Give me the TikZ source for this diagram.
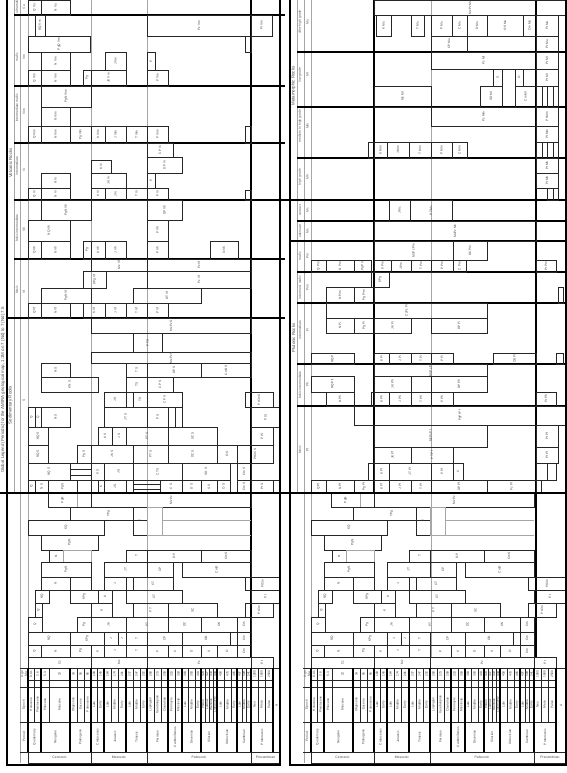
\documentclass[tikz,border=0pt]{standalone}
\usepackage{fontspec}
\setmainfont{Liberation Sans}
\tikzset{
  bxl/.style={draw=black!85, line width=0.35pt},
  lbl/.style={rotate=90, font=\fontsize{1.6}{1.9}\selectfont, inner sep=0pt, text=black!75},
  hdr/.style={rotate=90, font=\fontsize{1.7}{2}\selectfont, inner sep=0pt, text=black!65},
  grp/.style={rotate=90, font=\fontsize{2.2}{2.6}\selectfont, inner sep=0pt, text=black!70},
  hlbl/.style={font=\fontsize{1.7}{2}\selectfont, inner sep=0pt, text=black!70},
  sect/.style={draw=black, line width=0.55pt},
  frm/.style={draw=black, line width=0.9pt},
  era/.style={draw=black!35, line width=0.35pt},
  thk/.style={draw=black, line width=0.7pt},
}
\newcommand{\bx}[5]{\draw[bxl] (#1,#2) rectangle (#3,#4); \node[lbl] at ({(#1+#3)/2},{(#2+#4)/2}) {#5};}
\newcommand{\tscale}[1]{%
 \bx{48}{493}{77}{507}{PgN}
 \draw[era] (77,493) rectangle (91,507);
 \bx{91}{493}{251}{507}{MzPz}
 \bx{70}{507}{147}{520}{TPg}
 \bx{28}{520}{104}{535}{KQ}
 \bx{133}{507}{147}{535}{T}
 \draw[era] (147,507) rectangle (162,535);
 \draw[era] (162,520)--(251,520) (162,535)--(251,535);
 \bx{41}{535}{98}{550}{PgN}
 \bx{49}{550}{63}{562}{N}
 \draw[era] (63,550) rectangle (91,562);
 \bx{126}{550}{147}{562}{T}
 \bx{147}{550}{201}{562}{DP}
 \bx{201}{550}{251}{562}{CmS}
 \bx{41}{562}{91}{577}{PgN}
 \bx{104}{562}{147}{577}{JT}
 \bx{147}{562}{173}{577}{CP}
 \bx{182}{562}{251}{577}{CmD}
 \bx{41}{577}{70}{590}{N}
 \bx{70}{577}{91}{590}{}
 \bx{104}{577}{126}{590}{J}
 \bx{133}{577}{173}{590}{CT}
 \bx{245}{577}{#1}{590}{PtCm}
 \bx{35}{590}{49}{603}{NQ}
 \bx{70}{590}{98}{603}{KPg}
 \bx{98}{590}{112}{603}{K}
 \bx{126}{590}{182}{603}{CT}
 \bx{251}{590}{#1}{603}{Pt}
 \bx{35}{603}{42}{617}{Q}
 \bx{91}{603}{112}{617}{K}
 \bx{133}{603}{168}{617}{PT}
 \bx{168}{603}{217}{617}{SC}
 \bx{245}{603}{273}{617}{PtCm}
 \bx{28}{617}{42}{632}{Q}
 \bx{77}{617}{91}{632}{Pg}
 \bx{91}{617}{126}{632}{JK}
 \bx{126}{617}{168}{632}{PT}
 \bx{168}{617}{201}{632}{DC}
 \bx{201}{617}{237}{632}{OS}
 \bx{237}{617}{251}{632}{Cm}
 \bx{28}{632}{70}{645}{NQ} \bx{70}{632}{104}{645}{KPg} \bx{104}{632}{118}{645}{J}
 \bx{118}{632}{126}{645}{J} \bx{126}{632}{147}{645}{T} \bx{147}{632}{182}{645}{CP}
 \bx{182}{632}{230}{645}{OD} \bx{230}{632}{237}{645}{} \bx{237}{632}{251}{645}{Cm}
 \foreach \xa/\xb/\nm in {28/41/Q,41/70/N,70/91/Pg,91/104/K,104/126/J,126/147/T,147/168/P,168/182/C,182/201/D,201/217/S,217/237/O,237/251/Cm}{\bx{\xa}{645}{\xb}{657}{\nm}}
 \foreach \xa/\xb/\nm in {28/91/Cz,91/147/Mz,147/251/Pz,251/273/Pt}{\bx{\xa}{657}{\xb}{668}{\nm}}
 \foreach \xa/\xb/\nm/\ag in {28/34/Holocene/0.01,34/41/Pleistocene/2.6,41/49/Pliocene/5.3,49/70/Miocene/23,70/77/Oligocene/34,77/84/Eocene/56,84/91/Paleocene/66,
   91/97/Late/100,97/104/Early/145,104/111/Late/164,111/118/Middle/174,118/126/Early/201,126/133/Late/237,133/140/Middle/247,140/147/Early/252,
   147/154/Lopingian/260,154/161/Guadalupian/273,161/168/Cisuralian/299,168/175/Pennsylv./323,175/182/Mississip./359,
   182/188/Late/383,188/195/Middle/393,195/201/Early/419,201/205/Pridoli/423,205/209/Ludlow/427,209/213/Wenlock/433,213/217/Llandovery/444,
   217/224/Late/458,224/231/Middle/470,231/237/Early/485,237/242/Late/497,242/246/Middle/509,246/251/Early/541,
   251/258/Neo/1000,258/265/Meso/1600,265/273/Paleo/2500}{%
   \draw[bxl] (\xa,668) rectangle (\xb,722); \draw[bxl] (\xa,680)--(\xb,680) (\xa,687)--(\xb,687);
   \node[lbl] at ({(\xa+\xb)/2},674) {\ag}; \node[lbl] at ({(\xa+\xb)/2},704.5) {\nm};}
 \draw[bxl] (273,668) rectangle (#1,752); \node[lbl] at ({(273+#1)/2},705) {A};
 \foreach \xa/\xb/\nm in {28/41/Quaternary,41/70/Neogene,70/91/Paleogene,91/104/Cretaceous,104/126/Jurassic,126/147/Triassic,147/168/Permian,168/182/Carboniferous,182/201/Devonian,201/217/Silurian,217/237/Ordovician,237/251/Cambrian,251/273/Proterozoic}{\bx{\xa}{722}{\xb}{752}{\nm}}
 \foreach \x in {28,41,70,91,104,126,147,168,182,201,217,237,251,273} \draw[thk] (\x,668)--(\x,752);
 \draw[bxl] (28,752) rectangle (91,763) (91,752) rectangle (147,763) (147,752) rectangle (251,763) (251,752) rectangle (#1,763);
 \node[hlbl] at (59.5,757.5) {Cenozoic}; \node[hlbl] at (119,757.5) {Mesozoic};
 \node[hlbl] at (199,757.5) {Paleozoic}; \node[hlbl] at ({(251+#1)/2},757.5) {Precambrian};
 \draw[bxl] (20,668)--(28,668) (20,687)--(28,687) (20,722)--(28,722) (20,752)--(28,752);
 \node[hdr, align=center] at (24,674) {Age\\Ma};
 \node[hdr] at (24,704.5) {Epoch};
 \node[hdr] at (24,737) {Period};
}
\begin{document}
\begin{tikzpicture}[x=0.5pt,y=-0.5pt]
\fill[white] (0,0) rectangle (567,773);
\useasboundingbox (0,0) rectangle (567,773);

%================ LEFT PANEL =================
\begin{scope}
 \draw[era] (91,0)--(91,493); \draw[era] (147,0)--(147,657);
 \draw[sect] (251,0)--(251,657);
 \draw[era] (14,0)--(14,493); \draw[era] (20,0)--(20,763); \draw[era] (28,0)--(28,763);
 \foreach \y in {15,86,143,200,259} \draw[sect] (14,\y)--(285,\y);
 \draw[sect] (7,318)--(285,318);
 % headers
 \node[grp] at (3,390) {Global Legend (Periodic) for the AMIRA geological map, 1:1M on 7 (Nd) to 7 (Nd) 7.5};
 \node[grp] at (10.5,163) {Volcanic Rocks};
 \node[grp] at (10.5,405) {Sedimentary Rocks};
 \node[hdr] at (17,6) {ultramafic}; \node[hdr] at (24,7) {Vu};
 \node[hdr] at (17,57) {mafic}; \node[hdr] at (24,57) {Vm};
 \node[hdr] at (17,108) {intermediate mafic}; \node[hdr] at (24,112) {Vim};
 \node[hdr] at (17,166) {intermediate}; \node[hdr] at (24,170) {Vi};
 \node[hdr] at (17,228) {felsic intermediate}; \node[hdr] at (24,230) {Vfi};
 \node[hdr] at (17,290) {felsic}; \node[hdr] at (24,292) {Vf};
 \node[hdr] at (24,400) {S};
 % S1
 \bx{28}{0}{41}{15}{Q Vu}
 \bx{41}{0}{70}{15}{N Vu}
 % S2
 \bx{35}{15}{45}{36}{NQ Vm}
 \bx{147}{15}{251}{36}{Pz Vm}
 \bx{251}{15}{272}{36}{Pt Vm}
 \bx{28}{36}{90}{52}{PgQ Vm}
 \bx{245}{36}{251}{52}{}
 \bx{41}{52}{70}{70}{N Vm}
 \bx{105}{52}{126}{70}{J Vm}
 \bx{147}{52}{155}{70}{P}
 \bx{28}{70}{41}{86}{Q Vm}
 \bx{41}{70}{70}{86}{N Vm}
 \bx{83}{70}{91}{86}{Pg}
 \bx{91}{70}{126}{86}{JK Vm}
 \bx{147}{70}{168}{86}{P Vm}
 % S3
 \bx{41}{86}{91}{107}{PgN Vim}
 \bx{41}{107}{70}{126}{N Vim}
 \bx{28}{126}{41}{143}{Q Vim}
 \bx{41}{126}{70}{143}{N Vim}
 \bx{70}{126}{91}{143}{Pg Vim}
 \bx{91}{126}{105}{143}{K Vim}
 \bx{105}{126}{126}{143}{J Vim}
 \bx{126}{126}{147}{143}{T Vim}
 \bx{147}{126}{168}{143}{P Vim}
 \bx{245}{126}{251}{143}{}
 % S4
 \bx{147}{143}{173}{157}{CP Vi}
 \bx{147}{157}{182}{173}{DP Vi}
 \bx{91}{160}{111}{173}{K Vi}
 \bx{41}{173}{70}{188}{N Vi}
 \bx{91}{173}{126}{188}{JK Vi}
 \bx{147}{173}{155}{188}{P}
 \bx{28}{188}{41}{200}{Q Vi}
 \bx{41}{188}{70}{200}{N Vi}
 \bx{91}{188}{105}{200}{K Vi}
 \bx{105}{188}{126}{200}{J Vi}
 \bx{126}{188}{147}{200}{T Vi}
 \bx{147}{188}{168}{200}{P Vi}
 \bx{245}{190}{251}{200}{}
 % S5
 \bx{41}{200}{91}{220}{PgN Vfi}
 \bx{147}{200}{182}{220}{DP Vfi}
 \bx{28}{220}{70}{241}{NQ Vfi}
 \bx{147}{220}{168}{241}{P Vfi}
 \bx{210}{241}{238}{259}{O Vfi}
 \bx{28}{241}{41}{259}{Q Vfi}
 \bx{41}{241}{70}{259}{N Vfi}
 \bx{83}{241}{91}{259}{Pg}
 \bx{91}{241}{105}{259}{K Vfi}
 \bx{105}{241}{126}{259}{J Vfi}
 \bx{147}{241}{168}{259}{P Vfi}
 % S6
 \bx{91}{259}{147}{271}{Mz Vf}
 \bx{147}{259}{251}{271}{Pz Vf}
 \bx{83}{271}{106}{288}{KPg Vf}
 \bx{147}{271}{251}{288}{Pz Vf}
 \bx{41}{288}{91}{303}{PgN Vf}
 \bx{133}{288}{201}{303}{DT Vf}
 \bx{28}{303}{41}{318}{Q Vf}
 \bx{41}{303}{70}{318}{N Vf}
 \bx{83}{303}{105}{318}{K Vf}
 \bx{105}{303}{126}{318}{J Vf}
 \bx{126}{303}{147}{318}{T Vf}
 \bx{147}{303}{168}{318}{P Vf}
 % Sedimentary
 \bx{91}{318}{251}{333}{MzPz S}
 \bx{133}{333}{162}{352}{PT S}
 \bx{91}{352}{251}{363}{MzPz S}
 \bx{41}{363}{70}{377}{N S}
 \bx{126}{363}{147}{377}{T S}
 \bx{147}{363}{201}{377}{DP S}
 \bx{201}{363}{251}{377}{CmS S}
 \bx{41}{377}{98}{392}{KN S}
 \bx{126}{377}{147}{392}{T S}
 \bx{147}{377}{173}{392}{CP S}
 \bx{104}{392}{126}{407}{J S}
 \bx{133}{392}{147}{407}{T S}
 \bx{147}{392}{182}{407}{CP S}
 \bx{245}{392}{273}{407}{PtCm S}
 \bx{28}{407}{35}{427}{Q}
 \bx{35}{407}{41}{427}{Q}
 \bx{41}{407}{70}{427}{N S}
 \bx{104}{407}{147}{427}{JT S}
 \bx{147}{407}{168}{427}{P S}
 \bx{168}{407}{175}{427}{}
 \bx{175}{407}{182}{427}{}
 \bx{251}{407}{280}{427}{Pt S}
 \bx{28}{427}{48}{445}{NQ S}
 \bx{98}{427}{112}{445}{K S}
 \bx{112}{427}{126}{445}{J S}
 \bx{126}{427}{168}{445}{PT S}
 \bx{168}{427}{217}{445}{SC S}
 \bx{251}{427}{273}{445}{Pt S}
 \bx{28}{445}{48}{463}{NQ S}
 \bx{77}{445}{91}{463}{Pg S}
 \bx{91}{445}{133}{463}{JK S}
 \bx{133}{445}{168}{463}{PT S}
 \bx{168}{445}{217}{463}{DC S}
 \bx{217}{445}{237}{463}{O S}
 \bx{237}{445}{273}{463}{PtCm S}
 \bx{28}{463}{70}{480}{NQ S}
 \bx{70}{463}{91}{469}{} \bx{70}{469}{91}{475}{} \bx{70}{475}{91}{480}{}
 \bx{91}{463}{104}{480}{K S}
 \bx{104}{463}{133}{480}{J S}
 \bx{133}{463}{182}{480}{CT S}
 \bx{182}{463}{230}{480}{SD S}
 \bx{237}{463}{251}{480}{Cm S}
 \bx{28}{480}{35}{493}{Q} \bx{35}{480}{48}{493}{N S} \bx{48}{480}{77}{493}{Pg S}
 \bx{91}{480}{98}{493}{} \bx{98}{480}{104}{493}{K} \bx{104}{480}{126}{493}{J S}
 \bx{126}{480}{133}{493}{} \bx{133}{480}{160}{484}{} \bx{133}{484}{160}{489}{} \bx{133}{489}{160}{493}{}
 \bx{160}{480}{182}{493}{C S} \bx{182}{480}{201}{493}{D S} \bx{201}{480}{217}{493}{S S}
 \bx{217}{480}{230}{493}{O S} \bx{237}{480}{251}{493}{Cm S} \bx{251}{480}{273}{493}{Pt S} \bx{273}{480}{280}{493}{}
 \tscale{280}
 \draw[frm] (0,493)--(285,493);
 \draw[frm] (7,0)--(7,765)--(280,765)--(280,0);
\end{scope}

%================ RIGHT PANEL =================
\begin{scope}[shift={(283,0)}]
 \draw[sect] (91,0)--(91,493); \draw[era] (148,0)--(148,657);
 \draw[sect] (253,0)--(253,657);
 \draw[era] (14,0)--(14,493); \draw[era] (21,0)--(21,763); \draw[era] (28,0)--(28,763);
 \foreach \y in {52,107,158,221,272,303,364,406} \draw[sect] (14,\y)--(283,\y);
 \draw[sect] (0,200)--(283,200);
 \draw[sect] (7,241)--(283,241);
 \node[grp] at (10.5,86) {Metamorphic Rocks};
 \node[grp] at (10.5,338) {Plutonic Rocks};
 \node[hdr] at (17,22) {ultra-high grade}; \node[hdr] at (24.5,22) {Mu};
 \node[hdr] at (17,75) {low grade}; \node[hdr] at (24.5,75) {Ml};
 \node[hdr] at (17,126) {medium to high grade}; \node[hdr] at (24.5,126) {Mm};
 \node[hdr] at (17,177) {high grade}; \node[hdr] at (24.5,177) {Mh};
 \node[hdr] at (17,210.5) {contact}; \node[hdr] at (24.5,210.5) {Mc};
 \node[hdr] at (17,231) {unknown}; \node[hdr] at (24.5,231) {Mx};
 \node[hdr] at (17,256) {mafic}; \node[hdr] at (24.5,256) {Pm};
 \node[hdr] at (17,287.5) {intermed. mafic}; \node[hdr] at (24.5,287.5) {Pim};
 \node[hdr] at (17,330) {intermediate}; \node[hdr] at (24.5,330) {Pi};
 \node[hdr] at (17,385) {felsic intermediate}; \node[hdr] at (24.5,385) {Pfi};
 \node[hdr] at (17,450) {felsic}; \node[hdr] at (24.5,450) {Pf};
 % Metamorphic
 \bx{91}{0}{283}{15}{MzPz Mu}
 \bx{93}{15}{108}{36}{K Mu}
 \bx{128}{15}{141}{36}{T Mu}
 \bx{148}{15}{169}{36}{P Mu}
 \bx{169}{15}{184}{36}{C Mu}
 \bx{184}{15}{204}{36}{D Mu}
 \bx{204}{15}{240}{36}{OS Mu}
 \bx{240}{15}{253}{36}{Cm Mu}
 \bx{253}{15}{275}{36}{Pt Mu}
 \bx{148}{36}{184}{52}{CP Mu}
 \bx{253}{36}{275}{52}{Pt Mu}
 \bx{148}{52}{253}{69}{Pz Ml}
 \bx{253}{52}{275}{69}{Pt Ml}
 \bx{210}{69}{219}{86}{S}
 \bx{232}{69}{240}{86}{O}
 \bx{253}{69}{275}{86}{Pt Ml}
 \bx{91}{86}{148}{107}{Mz Ml}
 \bx{197}{86}{219}{107}{SD Ml}
 \bx{232}{86}{253}{107}{Cm Ml}
 \bx{253}{86}{259}{107}{} \bx{259}{86}{264}{107}{} \bx{264}{86}{270}{107}{} \bx{270}{86}{275}{107}{}
 \bx{148}{107}{253}{126}{Pz Mm}
 \bx{253}{107}{275}{126}{Pt Mm}
 \bx{253}{126}{275}{142}{Pt Mm}
 \bx{85}{142}{91}{158}{}
 \bx{91}{142}{104}{158}{K Mm}
 \bx{104}{142}{126}{158}{J Mm}
 \bx{126}{142}{148}{158}{T Mm}
 \bx{148}{142}{169}{158}{P Mm}
 \bx{169}{142}{184}{158}{C Mm}
 \bx{253}{142}{259}{158}{} \bx{259}{142}{264}{158}{} \bx{264}{142}{270}{158}{} \bx{270}{142}{275}{158}{}
 \bx{253}{158}{275}{173}{Pt Mh}
 \bx{253}{173}{275}{188}{Pt Mh}
 \bx{264}{188}{270}{200}{} \bx{270}{188}{275}{200}{}
 \bx{106}{200}{127}{221}{J Mc}
 \bx{127}{200}{169}{221}{PT Mc}
 \bx{91}{221}{253}{241}{MzPz Mx}
 % Plutonic
 \bx{91}{241}{170}{260}{MzPz Pm}
 \bx{170}{241}{204}{260}{DC Pm}
 \bx{28}{260}{43}{272}{Q Pm}
 \bx{43}{260}{71}{272}{N Pm}
 \bx{71}{260}{88}{272}{Pg Pm}
 \bx{91}{260}{108}{272}{K Pm}
 \bx{108}{260}{128}{272}{J Pm}
 \bx{128}{260}{148}{272}{T Pm}
 \bx{148}{260}{170}{272}{P Pm}
 \bx{170}{260}{183}{272}{C Pm}
 \bx{253}{260}{273}{272}{Pt Pm}
 \bx{88}{272}{106}{287}{KPg}
 \bx{43}{287}{71}{303}{N Pim}
 \bx{71}{287}{91}{303}{Pg Pim}
 \bx{275}{287}{280}{303}{}
 \bx{43}{303}{204}{318}{CzPz Pi}
 \bx{43}{318}{71}{333}{N Pi}
 \bx{71}{318}{91}{333}{Pg Pi}
 \bx{91}{318}{128}{333}{JK Pi}
 \bx{148}{318}{204}{333}{DP Pi}
 \bx{28}{353}{71}{364}{NQ Pi}
 \bx{91}{353}{106}{364}{K Pi}
 \bx{106}{353}{128}{364}{J Pi}
 \bx{128}{353}{148}{364}{T Pi}
 \bx{148}{353}{170}{364}{P Pi}
 \bx{210}{353}{253}{364}{OS Pi}
 \bx{273}{353}{280}{364}{}
 \bx{91}{364}{204}{376}{MzPz Pfi}
 \bx{28}{376}{71}{392}{NQ Pfi}
 \bx{91}{376}{128}{392}{JK Pfi}
 \bx{148}{376}{204}{392}{DP Pfi}
 \bx{43}{392}{71}{406}{N Pfi}
 \bx{88}{392}{91}{406}{}
 \bx{91}{392}{106}{406}{K Pfi}
 \bx{106}{392}{128}{406}{J Pfi}
 \bx{128}{392}{148}{406}{T Pfi}
 \bx{148}{392}{170}{406}{P Pfi}
 \bx{253}{392}{273}{406}{Pt Pfi}
 \bx{71}{406}{283}{425}{PgPt Pf}
 \bx{91}{425}{204}{447}{MzPz Pf}
 \bx{253}{425}{275}{447}{Pt Pf}
 \bx{91}{447}{128}{463}{JK Pf}
 \bx{128}{447}{170}{463}{PT Pf}
 \bx{253}{447}{275}{463}{Pt Pf}
 \bx{85}{463}{91}{480}{}
 \bx{91}{463}{106}{480}{K Pf}
 \bx{106}{463}{148}{480}{JT Pf}
 \bx{148}{463}{170}{480}{P Pf}
 \bx{170}{463}{180}{480}{C}
 \bx{253}{463}{264}{480}{} \bx{264}{463}{273}{480}{}
 \bx{28}{480}{43}{493}{Q Pf}
 \bx{43}{480}{71}{493}{N Pf}
 \bx{71}{480}{91}{493}{Pg Pf}
 \bx{91}{480}{106}{493}{K Pf}
 \bx{106}{480}{128}{493}{J Pf}
 \bx{128}{480}{148}{493}{T Pf}
 \bx{148}{480}{204}{493}{DP Pf}
 \bx{204}{480}{253}{493}{Pz Pf}
 \bx{253}{480}{258}{493}{}
 \tscale{283}
 \draw[frm] (0,493)--(283,493);
 \draw[frm] (7,0)--(7,765)--(283,765)--(283,0);
\end{scope}
\end{tikzpicture}
\end{document}
